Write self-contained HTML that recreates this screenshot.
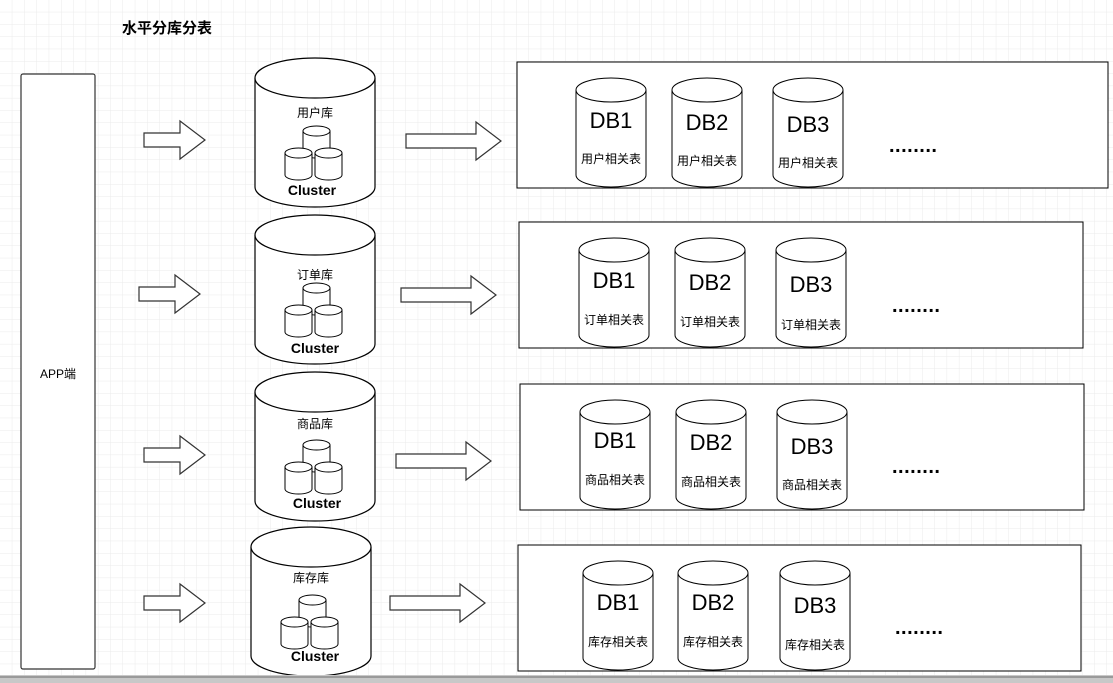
<!DOCTYPE html>
<html><head><meta charset="utf-8"><style>
body{margin:0;width:1113px;height:683px;overflow:hidden;background:#fff}
svg{display:block}
text{font-family:"Liberation Sans","Noto Sans CJK SC",sans-serif}
.d{font-size:20px;letter-spacing:0.5px;font-weight:bold}
</style></head><body>
<svg width="1113" height="683" viewBox="0 0 1113 683" xmlns="http://www.w3.org/2000/svg">
<defs>
<pattern id="g" width="12.3" height="12.3" patternUnits="userSpaceOnUse">
<path d="M12.3 0V12.3M0 12.3H12.3" stroke="#ebebeb" stroke-width="1" fill="none"/>
</pattern>
<symbol id="big" overflow="visible">
<path d="M0 20 V129 A60 20 0 0 0 120 129 V20" fill="#fff" stroke="#000" stroke-width="1.2"/>
<ellipse cx="60" cy="20" rx="60" ry="20" fill="#fff" stroke="#000" stroke-width="1.2"/>
</symbol>
<symbol id="sm" overflow="visible">
<path d="M0 5 V27 A13.5 5 0 0 0 27 27 V5" fill="#fff" stroke="#000"/>
<ellipse cx="13.5" cy="5" rx="13.5" ry="5" fill="#fff" stroke="#000"/>
</symbol>
<symbol id="db" overflow="visible">
<path d="M0 12 V97 A35 12 0 0 0 70 97 V12" fill="#fff" stroke="#000"/>
<ellipse cx="35" cy="12" rx="35" ry="12" fill="#fff" stroke="#000"/>
</symbol>
<symbol id="arr" overflow="visible">
<path d="M0 -7 H36 V-19 L61 0 L36 19 V7 H0 Z" fill="#fff" stroke="#333" stroke-width="1.2"/>
</symbol>
<symbol id="arr2" overflow="visible">
<path d="M0 -7 H70 V-19 L95 0 L70 19 V7 H0 Z" fill="#fff" stroke="#333" stroke-width="1.2"/>
</symbol>
<symbol id="clu" overflow="visible">
<use href="#sm" x="48" y="68"/>
<use href="#sm" x="30" y="90"/>
<use href="#sm" x="60" y="90"/>
</symbol>
</defs>
<rect width="1113" height="683" fill="url(#g)"/>
<text x="122" y="33" font-size="15" font-weight="bold">水平分库分表</text>
<rect x="21" y="74" width="74" height="595" rx="2" fill="#fff" stroke="#333" stroke-width="1.2"/>
<text x="58" y="378" font-size="12" text-anchor="middle">APP端</text>

<!-- row1 -->
<use href="#arr" x="144" y="140"/>
<g transform="translate(255,58)"><use href="#big"/><use href="#clu"/>
<text x="60" y="59" font-size="12" text-anchor="middle">用户库</text>
<text x="57" y="137" font-size="14" font-weight="bold" text-anchor="middle">Cluster</text></g>
<use href="#arr2" x="406" y="141"/>
<rect x="517" y="62" width="591" height="126" fill="#fff" stroke="#000"/>
<g transform="translate(576,78)"><use href="#db"/><text x="35" y="50" font-size="22" text-anchor="middle">DB1</text><text x="35" y="85" font-size="12" text-anchor="middle">用户相关表</text></g>
<g transform="translate(672,78)"><use href="#db"/><text x="35" y="52" font-size="22" text-anchor="middle">DB2</text><text x="35" y="87" font-size="12" text-anchor="middle">用户相关表</text></g>
<g transform="translate(773,78)"><use href="#db"/><text x="35" y="54" font-size="22" text-anchor="middle">DB3</text><text x="35" y="89" font-size="12" text-anchor="middle">用户相关表</text></g>
<text x="889" y="152" class="d">........</text>

<!-- row2 -->
<use href="#arr" x="139" y="294"/>
<g transform="translate(255,215)"><use href="#big"/><use href="#clu"/>
<text x="60" y="64" font-size="12" text-anchor="middle">订单库</text>
<text x="60" y="138" font-size="14" font-weight="bold" text-anchor="middle">Cluster</text></g>
<use href="#arr2" x="401" y="295"/>
<rect x="519" y="222" width="564" height="126" fill="#fff" stroke="#000"/>
<g transform="translate(579,238)"><use href="#db"/><text x="35" y="50" font-size="22" text-anchor="middle">DB1</text><text x="35" y="86" font-size="12" text-anchor="middle">订单相关表</text></g>
<g transform="translate(675,238)"><use href="#db"/><text x="35" y="52" font-size="22" text-anchor="middle">DB2</text><text x="35" y="88" font-size="12" text-anchor="middle">订单相关表</text></g>
<g transform="translate(776,238)"><use href="#db"/><text x="35" y="54" font-size="22" text-anchor="middle">DB3</text><text x="35" y="91" font-size="12" text-anchor="middle">订单相关表</text></g>
<text x="892" y="312" class="d">........</text>

<!-- row3 -->
<use href="#arr" x="144" y="455"/>
<g transform="translate(255,372)"><use href="#big"/><use href="#clu"/>
<text x="60" y="56" font-size="12" text-anchor="middle">商品库</text>
<text x="62" y="136" font-size="14" font-weight="bold" text-anchor="middle">Cluster</text></g>
<use href="#arr2" x="396" y="461"/>
<rect x="520" y="384" width="564" height="126" fill="#fff" stroke="#000"/>
<g transform="translate(580,400)"><use href="#db"/><text x="35" y="48" font-size="22" text-anchor="middle">DB1</text><text x="35" y="84" font-size="12" text-anchor="middle">商品相关表</text></g>
<g transform="translate(676,400)"><use href="#db"/><text x="35" y="50" font-size="22" text-anchor="middle">DB2</text><text x="35" y="86" font-size="12" text-anchor="middle">商品相关表</text></g>
<g transform="translate(777,400)"><use href="#db"/><text x="35" y="54" font-size="22" text-anchor="middle">DB3</text><text x="35" y="89" font-size="12" text-anchor="middle">商品相关表</text></g>
<text x="892" y="473" class="d">........</text>

<!-- row4 -->
<use href="#arr" x="144" y="603"/>
<g transform="translate(251,527)"><use href="#big"/><use href="#clu"/>
<text x="60" y="55" font-size="12" text-anchor="middle">库存库</text>
<text x="64" y="134" font-size="14" font-weight="bold" text-anchor="middle">Cluster</text></g>
<use href="#arr2" x="390" y="603"/>
<rect x="518" y="545" width="563" height="126" fill="#fff" stroke="#000"/>
<g transform="translate(583,561)"><use href="#db"/><text x="35" y="49" font-size="22" text-anchor="middle">DB1</text><text x="35" y="85" font-size="12" text-anchor="middle">库存相关表</text></g>
<g transform="translate(678,561)"><use href="#db"/><text x="35" y="49" font-size="22" text-anchor="middle">DB2</text><text x="35" y="85" font-size="12" text-anchor="middle">库存相关表</text></g>
<g transform="translate(780,561)"><use href="#db"/><text x="35" y="52" font-size="22" text-anchor="middle">DB3</text><text x="35" y="88" font-size="12" text-anchor="middle">库存相关表</text></g>
<text x="895" y="634" class="d">........</text>

<rect x="0" y="675" width="1113" height="8" fill="#c8c8c8"/>
<rect x="0" y="676" width="1113" height="2" fill="#9a9a9a"/>
</svg>
</body></html>
